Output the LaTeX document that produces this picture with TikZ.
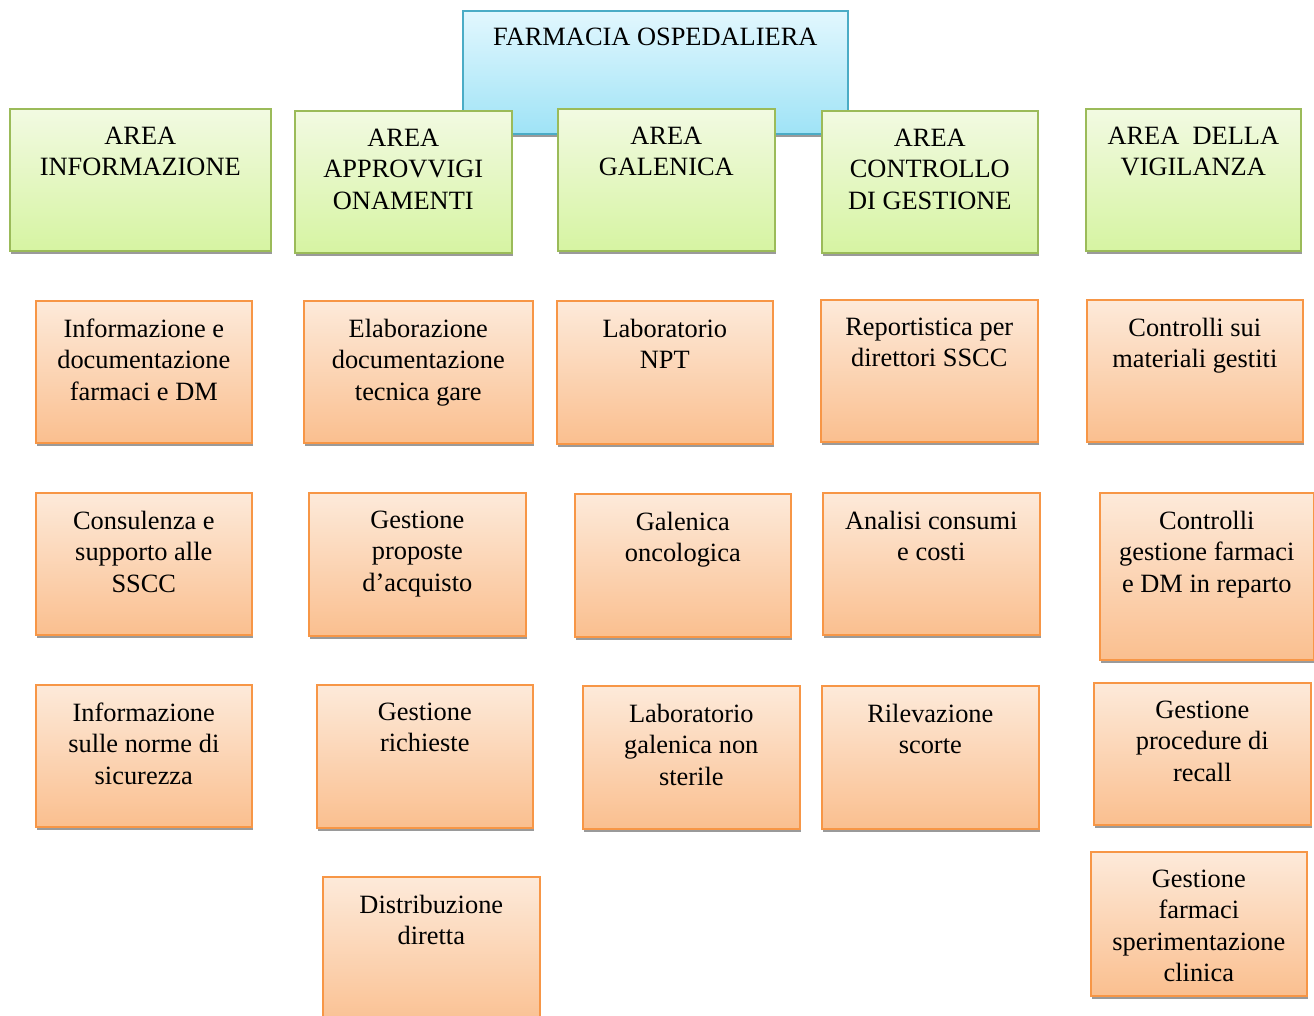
\documentclass[tikz,border=0pt]{standalone}
\usepackage{fontspec}
\setmainfont{Liberation Serif}
\usetikzlibrary{calc}
\definecolor{gtop}{HTML}{F2FAE2}
\definecolor{gbot}{HTML}{D6F4A2}
\definecolor{gline}{HTML}{9BBB59}
\definecolor{otop}{HTML}{FDEADA}
\definecolor{obot}{HTML}{FABF8F}
\definecolor{oline}{HTML}{F79646}
\definecolor{btop}{HTML}{E2F7FE}
\definecolor{bbot}{HTML}{9FE3F6}
\definecolor{bline}{HTML}{4BACC6}
\definecolor{shad}{HTML}{9A9A9A}
\tikzset{
  boxbase/.style={line width=1.6pt, inner sep=0pt, anchor=north west},
  greenbox/.style={boxbase, draw=gline, top color=gtop, bottom color=gbot},
  orangebox/.style={boxbase, draw=oline, top color=otop, bottom color=obot},
  bluebox/.style={boxbase, draw=bline, top color=btop, bottom color=bbot},
  txt/.style={anchor=north, inner sep=0pt, align=center,
    font=\fontsize{26.4}{31.5}\selectfont, execute at begin node=\strut},
  shadowrect/.style={fill=shad}
}
\newcommand\toff{18}
\newcommand\mybox[7]{%
  \fill[shadowrect] (#3+2,#4+4) rectangle (#5+2,#6+4);
  \node[#1, minimum width={\the\dimexpr#5pt-#3pt\relax}, minimum height={\the\dimexpr#6pt-#4pt\relax}] (#2) at (#3,#4) {};
  \node[txt] (#2t) at ($(#2.north)+(0,\toff)$) {#7};
}
\begin{document}
\begin{tikzpicture}[x=1pt,y=-1pt]
\clip (0,0) rectangle (1314,1016);
\fill[white] (0,0) rectangle (1314,1016);
% top
\renewcommand\toff{13}
\mybox{bluebox}{top}{462}{10}{847}{133}{FARMACIA OSPEDALIERA}
\renewcommand\toff{18.5}
% areas
\mybox{greenbox}{a1}{9}{108}{270}{250}{AREA\\INFORMAZIONE}
\mybox{greenbox}{a2}{294}{110}{511}{252}{AREA\\APPROVVIGI\\ONAMENTI}
\mybox{greenbox}{a3}{557}{108}{774}{250}{AREA\\GALENICA}
\mybox{greenbox}{a4}{821}{110}{1037}{252}{AREA\\CONTROLLO\\DI GESTIONE}
\mybox{greenbox}{a5}{1085}{108}{1300}{250}{AREA\ \ DELLA\\VIGILANZA}
% column 1
\mybox{orangebox}{b11}{35}{300}{251}{442}{Informazione e\\documentazione\\farmaci e DM}
\mybox{orangebox}{b12}{35}{492}{251}{634}{Consulenza e\\supporto alle\\SSCC}
\mybox{orangebox}{b13}{35}{684}{251}{826}{Informazione\\sulle norme di\\sicurezza}
% column 2
\mybox{orangebox}{b21}{303}{300}{532}{442}{Elaborazione\\documentazione\\tecnica gare}
\mybox{orangebox}{b22}{308}{492}{525}{635}{Gestione\\proposte\\d’acquisto}
\mybox{orangebox}{b23}{316}{684}{532}{827}{Gestione\\richieste}
\mybox{orangebox}{b24}{322}{876}{539}{1030}{Distribuzione\\diretta}
% column 3
\mybox{orangebox}{b31}{556}{300}{772}{443}{Laboratorio\\NPT}
\mybox{orangebox}{b32}{574}{493}{790}{636}{Galenica\\oncologica}
\mybox{orangebox}{b33}{582}{685}{799}{828}{Laboratorio\\galenica non\\sterile}
% column 4
\mybox{orangebox}{b41}{820}{299}{1037}{441}{Reportistica per\\direttori SSCC}
\mybox{orangebox}{b42}{822}{492}{1039}{634}{Analisi consumi\\e costi}
\mybox{orangebox}{b43}{821}{685}{1038}{828}{Rilevazione\\scorte}
% column 5
\mybox{orangebox}{b51}{1086}{299}{1302}{441}{Controlli sui\\materiali gestiti}
\mybox{orangebox}{b52}{1099}{492}{1313}{659}{Controlli\\gestione farmaci\\e DM in reparto}
\mybox{orangebox}{b53}{1093}{682}{1310}{824}{Gestione\\procedure di\\recall}
\mybox{orangebox}{b54}{1090}{851}{1306}{995}{Gestione\\farmaci\\sperimentazione\\clinica}
\end{tikzpicture}
\end{document}
